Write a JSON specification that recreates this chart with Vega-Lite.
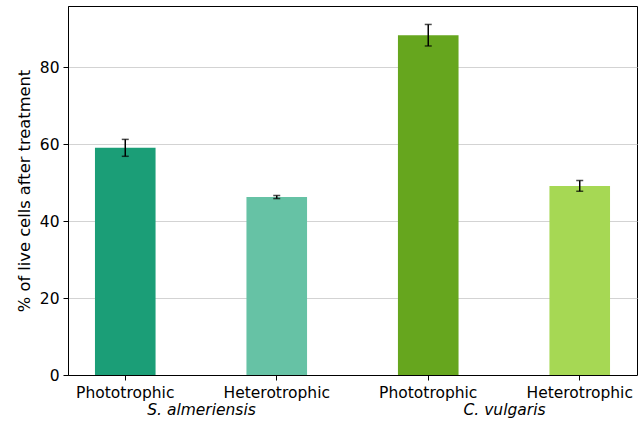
{
  "$schema": "https://vega.github.io/schema/vega-lite/v6.json",
  "width": 569,
  "height": 369,
  "autosize": {"type": "none"},
  "padding": {"left": 68, "top": 6, "right": 5, "bottom": 46},
  "config": {
    "font": "DejaVu Sans",
    "view": {"stroke": "black", "strokeWidth": 1},
    "axis": {
      "labelFont": "DejaVu Sans",
      "titleFont": "DejaVu Sans",
      "labelFontSize": 15.5,
      "titleFontSize": 16.3,
      "titleFontWeight": "normal",
      "labelColor": "black",
      "titleColor": "black",
      "domainColor": "black",
      "domainWidth": 1,
      "tickColor": "black",
      "tickSize": 5,
      "tickWidth": 1,
      "gridColor": "#d3d3d3",
      "gridWidth": 1
    }
  },
  "data": {
    "values": [
      {"id": "S. almeriensis|Phototrophic", "species": "S. almeriensis", "mode": "Phototrophic", "value": 59.1, "err": 2.2},
      {"id": "S. almeriensis|Heterotrophic", "species": "S. almeriensis", "mode": "Heterotrophic", "value": 46.3, "err": 0.4},
      {"id": "C. vulgaris|Phototrophic", "species": "C. vulgaris", "mode": "Phototrophic", "value": 88.4, "err": 2.8},
      {"id": "C. vulgaris|Heterotrophic", "species": "C. vulgaris", "mode": "Heterotrophic", "value": 49.2, "err": 1.4}
    ]
  },
  "layer": [
    {
      "encoding": {
        "x": {
          "field": "id",
          "type": "nominal",
          "sort": ["S. almeriensis|Phototrophic", "S. almeriensis|Heterotrophic", "C. vulgaris|Phototrophic", "C. vulgaris|Heterotrophic"],
          "scale": {"type": "band", "paddingInner": 0.6, "paddingOuter": 0.178},
          "axis": {
            "title": null,
            "labelAngle": 0,
            "labelPadding": 5,
            "grid": false,
            "labelExpr": "split(datum.label, '|')[1]"
          }
        },
        "y": {
          "field": "value",
          "type": "quantitative",
          "scale": {"domain": [0, 96], "nice": false},
          "axis": {
            "title": "% of live cells after treatment",
            "values": [0, 20, 40, 60, 80],
            "grid": true,
            "labelPadding": 4,
            "titlePadding": 7
          }
        }
      },
      "layer": [
        {
          "mark": {"type": "bar"},
          "encoding": {
            "color": {
              "field": "id",
              "type": "nominal",
              "scale": {
                "domain": ["S. almeriensis|Phototrophic", "S. almeriensis|Heterotrophic", "C. vulgaris|Phototrophic", "C. vulgaris|Heterotrophic"],
                "range": ["#1b9e77", "#66c2a5", "#66a61e", "#a6d854"]
              },
              "legend": null
            }
          }
        },
        {
          "mark": {
            "type": "errorbar",
            "ticks": {"size": 7, "thickness": 1.5, "color": "black"},
            "rule": {"strokeWidth": 1.5, "color": "black"}
          },
          "encoding": {
            "y": {"field": "value", "type": "quantitative"},
            "yError": {"field": "err"}
          }
        }
      ]
    },
    {
      "mark": {"type": "text", "text": ""},
      "encoding": {
        "x": {
          "field": "species",
          "type": "nominal",
          "sort": ["S. almeriensis", "C. vulgaris"],
          "scale": {"type": "point", "padding": 0.439},
          "axis": {
            "orient": "bottom",
            "title": null,
            "domain": false,
            "ticks": false,
            "tickSize": 0,
            "grid": false,
            "labelAngle": 0,
            "labelPadding": 27,
            "labelFontStyle": "italic"
          }
        }
      }
    }
  ],
  "resolve": {"scale": {"x": "independent"}, "axis": {"x": "independent"}}
}
